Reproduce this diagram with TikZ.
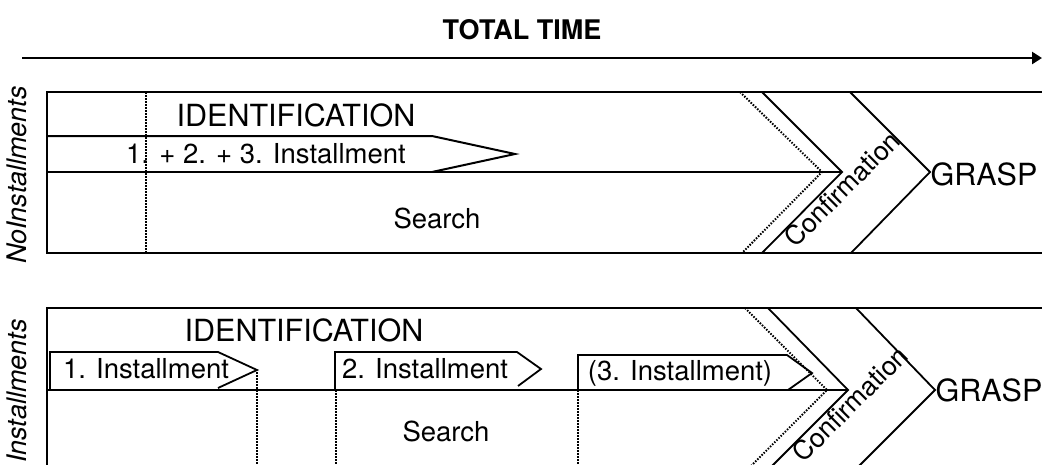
\documentclass[tikz,border=0pt]{standalone}
\usepackage{fontspec}
\setmainfont{TeX Gyre Heros}
\usetikzlibrary{arrows.meta}

\begin{document}
\begin{tikzpicture}[x=1pt,y=-1pt,
  frame/.style={line width=2pt},
  chev/.style={line width=1.8pt},
  dots/.style={line width=2pt,dash pattern=on 1.5pt off 1.5pt},
  bigtxt/.style={inner sep=0pt,font=\fontsize{30.5}{32}\selectfont},
  midtxt/.style={inner sep=0pt,font=\fontsize{27.5}{29}\selectfont},
  sidetxt/.style={inner sep=0pt,rotate=90,font=\fontsize{27}{29}\selectfont\itshape},
  conftxt/.style={inner sep=0pt,rotate=45,font=\fontsize{26.5}{28}\selectfont},
]
\useasboundingbox (0,0) rectangle (1042,464);

% time axis
\node[inner sep=0pt,font=\fontsize{27}{29}\selectfont\bfseries] (title) at (522,30) {TOTAL TIME};
\coordinate (tstart) at (22,58);
\coordinate (tend) at (1042,58);
\draw[line width=2.8pt,-{Triangle[length=10pt,width=12pt]}] (tstart) -- (tend);

% ---------- upper panel: no installments ----------
\node[sidetxt] (lblno) at (17,175) {NoInstallments};
\draw[frame] (1042,92) -- (47,92) -- (47,253) -- (1042,253);
\draw[dots] (146,92) -- (146,253);
\draw[frame] (47,136) -- (432,136) -- (515,154) -- (432,172);
\draw[frame] (47,172) -- (842,172);
\draw[dots] (740,92) -- (822,172) -- (742,253);
\draw[chev] (762,92) -- (842,172) -- (762,253);
\draw[chev] (850,92) -- (930,172) -- (851,253);
\node[bigtxt] (idA) at (296,115) {IDENTIFICATION};
\node[midtxt] (instAll) at (266,154) {1. + 2. + 3. Installment};
\node[midtxt] (searchA) at (437,218) {Search};
\node[conftxt] (confA) at (842,189) {Confirmation};
\node[bigtxt] (graspA) at (984,174) {GRASP};

% ---------- lower panel: installments ----------
\node[sidetxt] (lblin) at (17,391) {Installments};
\draw[frame] (1042,308) -- (47,308) -- (47,470);
\draw[frame] (47,390) -- (848,390);
\draw[chev] (50,390) -- (50,352) -- (218,352) -- (257,370) -- (218,388);
\draw[dots] (257,372) -- (257,470);
\draw[chev] (335,390) -- (335,352) -- (517,352) -- (541,369) -- (518,386);
\draw[dots] (336,390) -- (336,470);
\draw[chev] (578,390) -- (578,355) -- (787,355) -- (812,373) -- (788,390);
\draw[dots] (578,390) -- (578,470);
\draw[dots] (745,308) -- (827,390) -- (747,470);
\draw[chev] (768,308) -- (848,390) -- (768,470);
\draw[chev] (856,308) -- (935,390) -- (855,470);
\node[bigtxt] (idB) at (304,330) {IDENTIFICATION};
\node[midtxt] (instOne) at (146,369) {1. Installment};
\node[midtxt] (instTwo) at (425,369) {2. Installment};
\node[midtxt] (instThree) at (680,373) {(3. Installment)};
\node[midtxt] (searchB) at (446,431) {Search};
\node[conftxt] (confB) at (850,404) {Confirmation};
\node[bigtxt] (graspB) at (989,390) {GRASP};
\end{tikzpicture}
\end{document}
